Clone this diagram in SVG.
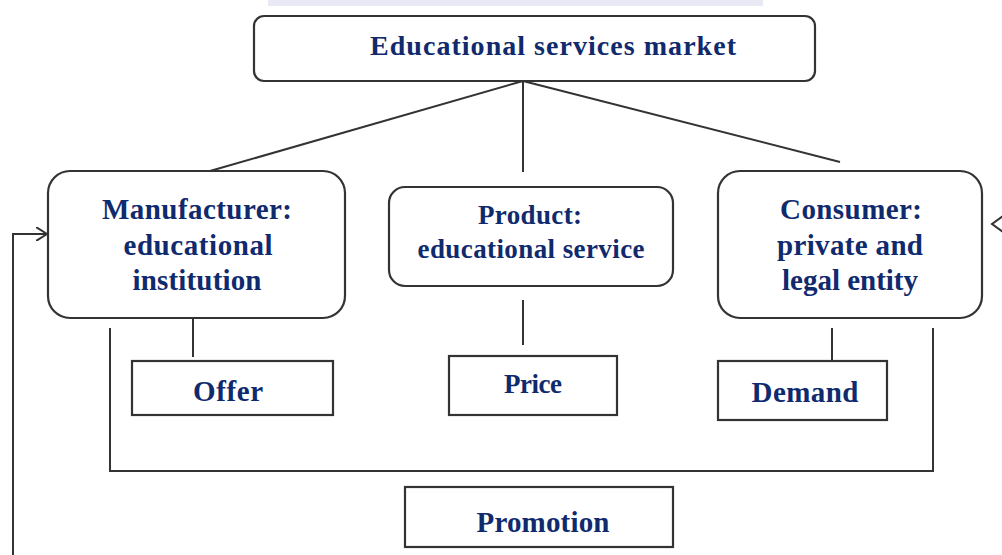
<svg xmlns="http://www.w3.org/2000/svg" width="1002" height="555" viewBox="0 0 1002 555">
<defs>
<style>
.box{fill:#fff;stroke:#333;stroke-width:2.2}
.ln{fill:none;stroke:#333;stroke-width:2}
.t{font-family:"Liberation Serif","Times New Roman",serif;font-weight:bold;fill:#102a6e;text-anchor:middle}
.big{font-size:29px}
.mid{font-size:27px}
.top{font-size:28px}
</style>
<marker id="chev" markerWidth="12" markerHeight="14" refX="11" refY="7" orient="auto" markerUnits="userSpaceOnUse">
<path d="M0,0 L11,7 L0,14" fill="none" stroke="#333" stroke-width="2"/>
</marker>
</defs>
<rect width="1002" height="555" fill="#fff"/>
<rect x="268" y="0" width="495" height="6" fill="#e4e4f2" opacity="0.8"/>

<g id="connectors">
<line class="ln" x1="523" y1="81" x2="210" y2="171"/>
<line class="ln" x1="523" y1="81" x2="523" y2="172"/>
<line class="ln" x1="523" y1="81" x2="840" y2="162"/>
<line class="ln" x1="193" y1="318" x2="193" y2="357"/>
<line class="ln" x1="523" y1="300" x2="523" y2="345"/>
<line class="ln" x1="832" y1="328" x2="832" y2="366"/>
<path class="ln" d="M110,328 V471 H933 V328"/>
<path class="ln" d="M13,555 V234 H47" marker-end="url(#chev)"/>
<path class="ln" d="M1003,216 L992,224 L1003,232"/>
</g>

<g id="market">
<rect class="box" x="254" y="16" width="561" height="65" rx="10"/>
<text class="t top" x="553" y="55" textLength="366" lengthAdjust="spacing">Educational services  market</text>
</g>

<g id="manufacturer">
<rect class="box" x="48" y="171" width="297" height="147" rx="22"/>
<text class="t big" x="197" y="219" textLength="190" lengthAdjust="spacing">Manufacturer:</text>
<text class="t big" x="198" y="255" textLength="149" lengthAdjust="spacing">educational</text>
<text class="t big" x="197" y="290" textLength="129" lengthAdjust="spacing">institution</text>
</g>

<g id="product">
<rect class="box" x="389" y="187" width="284" height="99" rx="16"/>
<text class="t mid" x="530" y="224" textLength="104" lengthAdjust="spacing">Product:</text>
<text class="t mid" x="531" y="258" textLength="227" lengthAdjust="spacing">educational service</text>
</g>

<g id="consumer">
<rect class="box" x="718" y="171" width="264" height="147" rx="22"/>
<text class="t big" x="851" y="219" textLength="142" lengthAdjust="spacing">Consumer:</text>
<text class="t big" x="850" y="255" textLength="146" lengthAdjust="spacing">private and</text>
<text class="t big" x="850" y="290" textLength="136" lengthAdjust="spacing">legal entity</text>
</g>

<g id="offer">
<rect class="box" x="132" y="361" width="201" height="54"/>
<text class="t big" x="228" y="401" textLength="70" lengthAdjust="spacing">Offer</text>
</g>

<g id="price">
<rect class="box" x="449" y="356" width="168" height="59"/>
<text class="t mid" x="533" y="393" textLength="58" lengthAdjust="spacing">Price</text>
</g>

<g id="demand">
<rect class="box" x="718" y="361" width="169" height="59"/>
<text class="t big" x="805" y="402" textLength="107" lengthAdjust="spacing">Demand</text>
</g>

<g id="promotion">
<rect class="box" x="405" y="487" width="268" height="60"/>
<text class="t big" x="543" y="532" textLength="133" lengthAdjust="spacing">Promotion</text>
</g>
</svg>
